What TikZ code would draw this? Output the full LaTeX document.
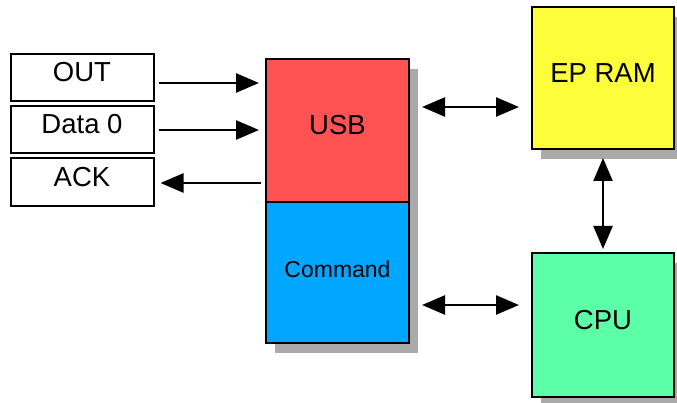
\documentclass[tikz,border=0pt]{standalone}
\usepackage{fontspec}
\setmainfont{Liberation Sans}
\usetikzlibrary{arrows.meta,shadows}
\definecolor{usbred}{RGB}{255,82,82}
\definecolor{cmdblue}{RGB}{0,166,255}
\definecolor{ramyellow}{RGB}{253,253,58}
\definecolor{cpugreen}{RGB}{92,255,168}
\definecolor{shadowgray}{RGB}{170,170,170}
\tikzset{
  box/.style={draw=black, line width=2pt, inner sep=0pt, text height=19pt, text depth=10pt,
    font=\fontsize{27.5}{32}\selectfont},
  shbox/.style={box, drop shadow={shadow xshift=9pt, shadow yshift=-10pt, fill=shadowgray, opacity=1}},
  tip/.tip={Triangle[length=23pt,width=19pt]},
  arr/.style={line width=2.4pt, -tip},
  dbl/.style={line width=2.4pt, tip-tip}
}
\begin{document}
\begin{tikzpicture}[x=1pt,y=-1pt]
\useasboundingbox (0,0) rectangle (677,403);
% left boxes
\node[box, minimum width=143pt, minimum height=47pt] (out) at (82,77.5) {OUT};
\node[box, minimum width=143pt, minimum height=47pt] (data) at (82,129.5) {Data 0};
\node[box, minimum width=143pt, minimum height=48pt] (ack) at (82,182) {ACK};
% central column
\node[shbox, fill=usbred, minimum width=143pt, minimum height=143pt] (usb) at (337.5,130.5) {USB};
\node[shbox, fill=cmdblue, minimum width=143pt, minimum height=141pt,
  font=\fontsize{23}{28}\selectfont] (cmd) at (337.5,272.5) {Command};
% right column
\node[shbox, fill=ramyellow, minimum width=142pt, minimum height=142pt] (epram) at (603,78) {EP RAM};
\node[shbox, fill=cpugreen, minimum width=142pt, minimum height=144pt] (cpu) at (603,325) {CPU};
% connectors
\draw[arr, shorten <=4pt, shorten >=6pt] (out.east |- 0,83) -- (usb.west |- 0,83);
\draw[arr, shorten <=4pt, shorten >=6pt] (data.east |- 0,130) -- (usb.west |- 0,130);
\draw[arr, shorten <=4pt, shorten >=6pt] (usb.west |- 0,183) -- (ack.east |- 0,183);
\draw[dbl, shorten <=12pt, shorten >=12pt] (usb.east |- 0,107) -- (epram.west |- 0,107);
\draw[dbl, shorten <=12pt, shorten >=12pt] (cmd.east |- 0,305) -- (cpu.west |- 0,305);
\draw[dbl, shorten <=8pt, shorten >=3pt] (epram.south) -- (cpu.north);
\end{tikzpicture}
\end{document}
